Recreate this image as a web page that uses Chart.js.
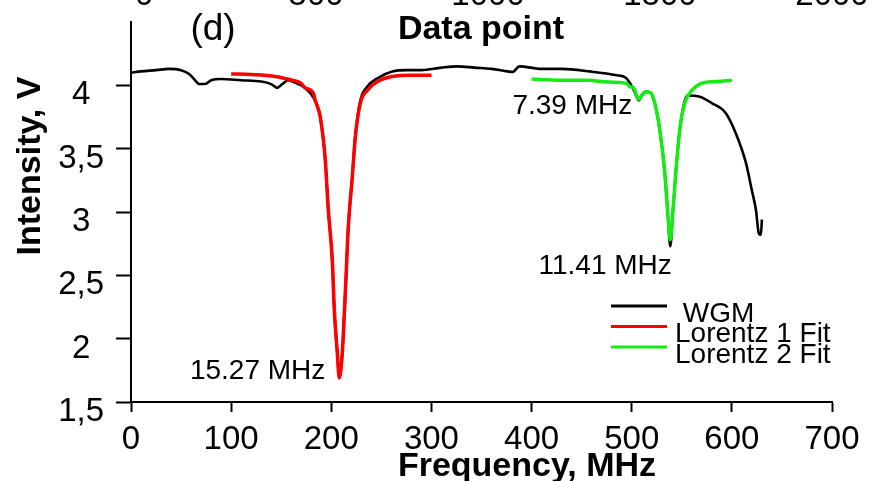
<!DOCTYPE html>
<html lang="en">
<head>
<meta charset="utf-8">
<title>WGM spectrum</title>
<script src="https://cdn.jsdelivr.net/npm/chart.js@4.4.1/dist/chart.umd.min.js"></script>
<style>
    html, body { margin: 0; padding: 0; background: #fff; overflow: hidden; }
    #wrap { width: 876px; height: 481px; }
</style>
</head>
<body>
<div id="wrap"><canvas id="wgmChart" width="876" height="481"></canvas></div>
<script>
    // measured WGM transmission (frequency in MHz, intensity in V)
    const wgmFreq = [0, 10, 25, 38, 50, 58, 64, 68, 74, 80, 90, 110, 130, 140, 146, 151, 157, 164, 172, 180, 185, 189,
        194, 197, 201, 203, 206, 208, 211, 214, 217, 221, 224, 229, 236, 247, 261, 276, 290, 310, 326, 343, 360, 376,
        381, 388, 410, 430, 458, 485, 494, 501, 505, 507, 510, 514, 519, 523, 528, 533, 536, 538.5, 541, 544, 548, 553,
        556, 568, 580, 594, 604, 614, 620, 624, 627, 629, 630];
    const wgmVolt = [4.10, 4.11, 4.12, 4.13, 4.12, 4.09, 4.04, 4.01, 4.01, 4.04, 4.05, 4.04, 4.03, 4.01, 3.98, 4.01,
        4.04, 4.02, 3.99, 3.93, 3.86, 3.75, 3.41, 3.02, 2.62, 2.23, 1.89, 1.69, 1.89, 2.36, 2.88, 3.28, 3.60, 3.88, 3.99,
        4.06, 4.11, 4.12, 4.12, 4.14, 4.15, 4.14, 4.13, 4.11, 4.105, 4.15, 4.13, 4.13, 4.11, 4.08, 4.06, 3.98, 3.91, 3.88,
        3.92, 3.95, 3.94, 3.86, 3.65, 3.31, 2.99, 2.73, 2.99, 3.31, 3.65, 3.88, 3.92, 3.91, 3.86, 3.78, 3.62, 3.39, 3.17,
        3.02, 2.83, 2.82, 2.94];

    // Lorentz fit of the 15.27 MHz dip
    const fit1Freq = [100, 120, 144, 161, 169, 174, 182, 184, 189, 194, 197, 201, 203, 206, 208, 211, 214, 217, 221,
        224, 229, 236, 246, 261, 279, 300];
    const fit1Volt = [4.09, 4.085, 4.07, 4.04, 4.02, 3.98, 3.94, 3.88, 3.75, 3.41, 3.02, 2.62, 2.23, 1.89, 1.69, 1.89,
        2.36, 2.88, 3.28, 3.59, 3.86, 3.96, 4.03, 4.07, 4.08, 4.08];

    // Lorentz fit of the 7.39 / 11.41 MHz dips
    const fit2Freq = [400, 428, 458, 469, 491, 496, 498, 502, 505, 507, 510, 514, 519, 523, 528, 533, 536, 538.5, 541,
        544, 548, 553, 560, 568, 585, 600];
    const fit2Volt = [4.05, 4.04, 4.04, 4.03, 4.02, 4.01, 3.99, 3.98, 3.92, 3.89, 3.92, 3.95, 3.94, 3.86, 3.65, 3.31,
        2.99, 2.78, 2.99, 3.31, 3.65, 3.86, 3.96, 4.01, 4.03, 4.04];

    const freqTicks = [0, 100, 200, 300, 400, 500, 600, 700];
    const pointTicks = [0, 500, 1000, 1500, 2000];
    const voltTicks = [1.5, 2, 2.5, 3, 3.5, 4];

    const FONT = '"Liberation Sans", Arial, sans-serif';

    function toPoints(xs, ys) {
        return xs.map((x, i) => ({ x: x, y: ys[i] }));
    }

    // fixed box sizes so the plot area lands where the axes are drawn
    function fixBox(size) {
        return (s) => {
            if (s.isHorizontal()) s.height = size; else s.width = size;
            s.paddingTop = 0;
            s.paddingBottom = 0;
            s.paddingLeft = 0;
            s.paddingRight = 0;
        };
    }

    // text, legend and width labels drawn on top of the plot
    const figureText = {
        id: 'figureText',
        afterDraw(chart) {
            const ctx = chart.ctx;
            const sx = chart.scales.x;
            const sy = chart.scales.y;
            ctx.save();
            ctx.fillStyle = '#000';

            ctx.textAlign = 'center';
            ctx.textBaseline = 'alphabetic';
            ctx.font = '37px ' + FONT;
            ctx.fillText('(d)', 213, 40);

            ctx.font = 'bold 34px ' + FONT;
            ctx.fillText('Data point', 481, 39);
            ctx.fillText('Frequency, MHz', 527, 476);

            ctx.save();
            ctx.translate(31, 166);
            ctx.rotate(-Math.PI / 2);
            ctx.textBaseline = 'middle';
            ctx.fillText('Intensity, V', 0, 0);
            ctx.restore();

            // linewidth labels next to the dips
            ctx.font = '28px ' + FONT;
            ctx.textAlign = 'right';
            ctx.fillText('15.27 MHz', sx.getPixelForValue(194), sy.getPixelForValue(1.68));
            ctx.fillText('7.39 MHz', sx.getPixelForValue(500.5), sy.getPixelForValue(3.77));
            ctx.textAlign = 'center';
            ctx.fillText('11.41 MHz', sx.getPixelForValue(473.5), sy.getPixelForValue(2.51));

            // legend
            ctx.textAlign = 'left';
            ctx.textBaseline = 'middle';
            chart.data.datasets.forEach((ds, i) => {
                const ly = 306 + i * 20.5;
                ctx.strokeStyle = ds.borderColor;
                ctx.lineWidth = 3;
                ctx.beginPath();
                ctx.moveTo(611, ly);
                ctx.lineTo(667, ly);
                ctx.stroke();
                ctx.fillText(ds.label, 675, ly + 8);
            });
            ctx.restore();
        }
    };

    const ctx = document.getElementById('wgmChart').getContext('2d');
    const wgmChart = new Chart(ctx, {
        type: 'line',
        data: {
            datasets: [{
                label: ' WGM',
                data: toPoints(wgmFreq, wgmVolt),
                borderColor: '#000000',
                borderWidth: 2.6,
                order: 2
            }, {
                label: 'Lorentz 1 Fit',
                data: toPoints(fit1Freq, fit1Volt),
                borderColor: '#ff0000',
                borderWidth: 3.5,
                order: 1
            }, {
                label: 'Lorentz 2 Fit',
                data: toPoints(fit2Freq, fit2Volt),
                borderColor: '#14ec14',
                borderWidth: 3.5,
                order: 1
            }]
        },
        options: {
            responsive: false,
            animation: false,
            devicePixelRatio: 1,
            layout: { padding: { left: 0, right: 44, top: 0, bottom: 0 } },
            elements: {
                point: { radius: 0 },
                line: { cubicInterpolationMode: 'monotone', fill: false }
            },
            plugins: {
                legend: { display: false },
                tooltip: { enabled: false }
            },
            scales: {
                x: {
                    type: 'linear',
                    position: 'bottom',
                    min: 0,
                    max: 700,
                    afterBuildTicks: (s) => { s.ticks = freqTicks.map(v => ({ value: v })); },
                    afterFit: fixBox(79),
                    border: { display: true, color: '#000', width: 2 },
                    grid: { drawOnChartArea: false, drawTicks: true, tickLength: 10, tickWidth: 2, tickColor: '#000' },
                    ticks: {
                        color: '#000', padding: 8, maxRotation: 0, autoSkip: false,
                        font: { family: FONT, size: 33 },
                        callback: (v) => String(v)
                    }
                },
                xTop: {
                    type: 'linear',
                    position: 'top',
                    min: -38,
                    max: 2000,
                    afterBuildTicks: (s) => { s.ticks = pointTicks.map(v => ({ value: v })); },
                    afterFit: fixBox(22),
                    border: { display: false },
                    grid: { display: false, drawTicks: false },
                    ticks: {
                        color: '#000', padding: 6, maxRotation: 0, autoSkip: false,
                        font: { family: FONT, size: 33 },
                        callback: (v) => String(v)
                    }
                },
                y: {
                    type: 'linear',
                    position: 'left',
                    min: 1.5,
                    max: 4.5,
                    afterBuildTicks: (s) => { s.ticks = voltTicks.map(v => ({ value: v })); },
                    afterFit: fixBox(131),
                    border: { display: true, color: '#000', width: 2 },
                    grid: { drawOnChartArea: false, drawTicks: true, tickLength: 15, tickWidth: 2, tickColor: '#000' },
                    ticks: {
                        color: '#000',
                        padding: 12,
                        crossAlign: 'center',
                        labelOffset: 10,
                        autoSkip: false,
                        font: { family: FONT, size: 33 },
                        callback: (v) => String(v).replace('.', ',')
                    }
                }
            }
        },
        plugins: [figureText]
    });
</script>
</body>
</html>
